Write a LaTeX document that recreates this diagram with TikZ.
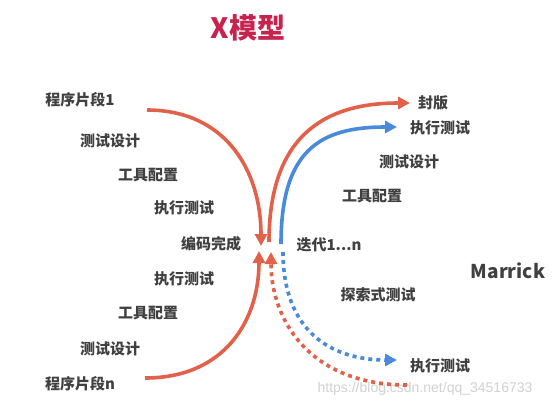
\documentclass[tikz,border=0pt]{standalone}
\usepackage{fontspec}
\setmainfont{Noto Sans CJK SC}
\newfontfamily\wmfont{Liberation Sans}
\usetikzlibrary{arrows.meta}
\definecolor{xred}{HTML}{E2614A}
\definecolor{xblue}{HTML}{4A8ADA}
\definecolor{xtext}{HTML}{404040}
\definecolor{xtitle}{HTML}{C8234F}
\tikzset{
  lbl/.style={font=\fontsize{15}{17}\selectfont\bfseries, text=xtext, inner sep=0pt},
  arc/.style={line width=3.6pt, -{Triangle[length=12pt,width=12pt]}},
  dotarc/.style={arc, dash pattern=on 4pt off 4pt},
}
\begin{document}
\begin{tikzpicture}[x=1pt,y=-1pt]
\path[use as bounding box, fill=white] (0,0) rectangle (555,408);
% title
\node[font=\fontsize{28}{30}\selectfont\bfseries, text=xtitle, inner sep=0pt] (title) at (248,28) {X模型};
% left labels
\node[lbl] (p1) at (80,100) {程序片段1};
\node[lbl] (l1) at (110,141) {测试设计};
\node[lbl] (l2) at (148,175) {工具配置};
\node[lbl] (l3) at (184,208) {执行测试};
\node[lbl] (code) at (211,244) {编码完成};
\node[lbl] (l4) at (184,279) {执行测试};
\node[lbl] (l5) at (148,313) {工具配置};
\node[lbl] (l6) at (110,349) {测试设计};
\node[lbl] (pn) at (80,384) {程序片段n};
% right labels
\node[lbl] (fb) at (433,103) {封版};
\node[lbl] (r1) at (440,128) {执行测试};
\node[lbl] (r2) at (409,162) {测试设计};
\node[lbl] (r3) at (372,196) {工具配置};
\node[lbl] (iter) at (329,245) {迭代1...n};
\node[font=\fontsize{19}{21}\selectfont\bfseries, text=xtext, inner sep=0pt] (marrick) at (508,271) {Marrick};
\node[lbl] (expl) at (378,295) {探索式测试};
\node[lbl] (r4) at (440,366) {执行测试};
% watermark
\node[font=\wmfont\fontsize{14}{16}\selectfont, text=black!18, inner sep=0pt] (wm) at (425,389) {https://blog.csdn.net/qq\_34516733};
% coordinates
\coordinate (a1s) at (147,110);
\coordinate (a1e) at (261,246);
\coordinate (a2s) at (145,378);
\coordinate (a2e) at (259,251);
\coordinate (a3s) at (269,242);
\coordinate (a3e) at (410,103);
\coordinate (b1s) at (281,244);
\coordinate (b1e) at (397,127);
\coordinate (b2s) at (283,252);
\coordinate (b2e) at (397,360);
\coordinate (c1s) at (407,385);
\coordinate (c1e) at (271,252);
% arrows
\draw[arc, xred] (a1s) .. controls (225,110) and (261,170) .. (a1e);
\draw[arc, xred] (a2s) .. controls (225,378) and (259,320) .. (a2e);
\draw[arc, xred] (a3s) .. controls (269,140) and (320,103) .. (a3e);
\draw[arc, xblue] (b1s) .. controls (281,150) and (320,127) .. (b1e);
\draw[dotarc, xblue] (b2s) .. controls (283,330) and (330,360) .. (b2e);
\draw[dotarc, xred] (c1s) .. controls (310,385) and (271,320) .. (c1e);
\end{tikzpicture}
\end{document}
